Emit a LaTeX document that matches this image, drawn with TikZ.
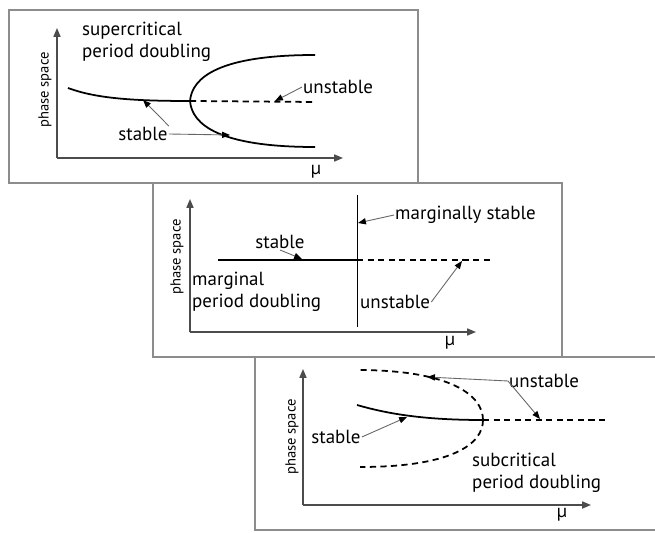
\documentclass[tikz,border=0pt]{standalone}
\usepackage{fontspec}
\setmainfont{PT Sans}
\usetikzlibrary{arrows.meta}

\begin{document}
\begin{tikzpicture}[x=0.02cm, y=-0.02cm,
  panel/.style={draw=black!45, fill=white, line width=0.6pt},
  axis/.style={draw=black!70, line width=0.8pt, -{Triangle[length=5pt,width=4pt]}},
  branch/.style={line width=1pt},
  unst/.style={line width=1pt, dash pattern=on 3.5pt off 2.5pt},
  lead/.style={draw=black!60, line width=0.5pt, -{Triangle[length=4.5pt,width=3.5pt,black]}},
  lbl/.style={font=\fontsize{10.8}{12.5}\selectfont, inner sep=0.5pt},
  ylbl/.style={font=\fontsize{8.3}{9}\selectfont, rotate=90, inner sep=0pt},
  mu/.style={font=\fontsize{10.5}{12}\selectfont, inner sep=0pt}]
\useasboundingbox (0,0) rectangle (655,533);

% supercritical
\draw[panel] (9,10) rectangle (418,183);
\coordinate (o1) at (57,158);
\draw[axis] (o1) -- (57,28);
\draw[axis] (o1) -- (343,158);
\node[ylbl] (ps1) at (45,90) {phase space};
\node[mu] (mu1) at (316,172) {µ};
\node[lbl, anchor=west, align=left] (title1) at (81,42) {supercritical\\period doubling};
\draw[branch] (68,88) .. controls (95,98) and (130,101) .. (190,101);
\draw[branch] (190,101) .. controls (192,77) and (220,55) .. (315,55);
\draw[branch] (190,101) .. controls (192,125) and (220,147) .. (315,147);
\draw[unst] (190,101) -- (315,102);
\coordinate (s1a) at (143,100);
\coordinate (s1b) at (230,135);
\coordinate (u1) at (275,101);
\node[lbl] (stab1) at (143,134) {stable};
\node[lbl, anchor=west] (unst1) at (302,87) {unstable};
\draw[lead] (stab1.north east) -- (s1a);
\draw[lead] (stab1.east) -- (s1b);
\draw[lead] (unst1.west) -- (u1);

% marginal
\draw[panel] (153,183) rectangle (562,357);
\coordinate (o2) at (190,332);
\draw[axis] (o2) -- (190,199);
\draw[axis] (o2) -- (476,332);
\node[ylbl] (ps2) at (177,257) {phase space};
\node[mu] (mu2) at (450,343) {µ};
\draw[branch] (218,260) -- (357,260);
\draw[unst] (357,260) -- (493,260);
\draw[line width=0.5pt] (357,195) -- (357,327);
\coordinate (s2) at (302,259);
\coordinate (m2) at (358,223);
\coordinate (u2) at (462,261);
\node[lbl] (stab2) at (280,242) {stable};
\node[lbl, anchor=west] (marg2) at (394,215) {marginally stable};
\node[lbl, anchor=west] (unst2) at (359,302) {unstable};
\node[lbl, anchor=west, align=left] (title2) at (191,292) {marginal\\period doubling};
\draw[lead] (stab2.south) -- (s2);
\draw[lead] (marg2.west) -- (m2);
\draw[lead] (unst2.east) -- (u2);

% subcritical
\draw[panel] (255,357) rectangle (670,530);
\coordinate (o3) at (303,505);
\draw[axis] (o3) -- (303,369);
\draw[axis] (o3) -- (591,505);
\node[ylbl] (ps3) at (292,437) {phase space};
\node[mu] (mu3) at (562,515) {µ};
\draw[branch] (357,405) .. controls (385,413) and (420,420) .. (483,420);
\draw[unst] (483,420) -- (607,420);
\draw[unst] (483,420) .. controls (483,395) and (450,370) .. (357,370);
\draw[unst] (483,420) .. controls (483,445) and (450,467) .. (360,467);
\coordinate (s3) at (407,417);
\coordinate (u3a) at (427,377);
\coordinate (u3b) at (540,419);
\node[lbl] (stab3) at (336,437) {stable};
\node[lbl, anchor=west] (unst3) at (508,381) {unstable};
\node[lbl, anchor=west, align=left] (title3) at (471,473) {subcritical\\period doubling};
\draw[lead] (stab3.east) -- (s3);
\draw[lead] (unst3.west) -- (u3a);
\draw[lead] (unst3.west) -- (u3b);
\end{tikzpicture}
\end{document}
